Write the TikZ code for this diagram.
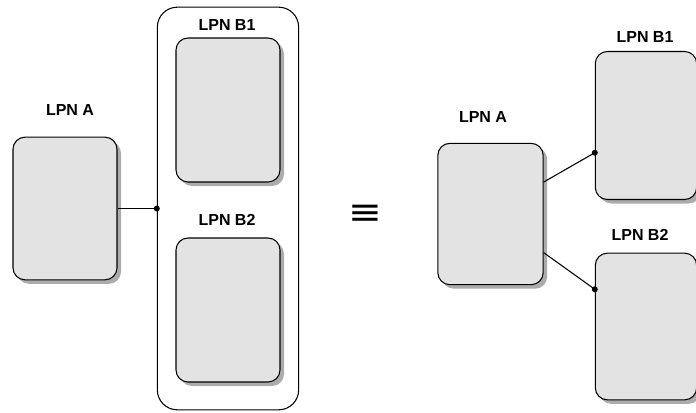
\documentclass[tikz,border=0pt]{standalone}
\usepackage{fontspec}
\setmainfont{Liberation Sans}
\newfontfamily\eqfont{DejaVu Sans}
\usetikzlibrary{shadows}
\begin{document}
\begin{tikzpicture}[x=0.75pt,y=-0.75pt,line width=0.8pt,
  lpn/.style={draw,rectangle,rounded corners=9pt,fill=gray!22,inner sep=0pt,
    drop shadow={shadow xshift=3pt,shadow yshift=-3pt,fill=gray!65,opacity=1}},
  lbl/.style={font=\fontsize{12}{14}\selectfont\bfseries},
  pin/.style={circle,fill=black,inner sep=0pt,minimum size=4.5pt}]
\useasboundingbox (0,0) rectangle (696,412);
% left: A joined to the group of B1 and B2
\node[lpn,minimum width=78pt,minimum height=107pt] (lA) at (65,208.5) {};
\node[lbl] (lAt) at (70,110) {LPN A};
\node[draw,rounded corners=15pt,minimum width=106pt,minimum height=302pt] (grp) at (228,208.5) {};
\node[lpn,minimum width=78pt,minimum height=108pt] (lB1) at (228,110) {};
\node[lbl] (lB1t) at (227,25) {LPN B1};
\node[lpn,minimum width=78pt,minimum height=108pt] (lB2) at (228,310) {};
\node[lbl] (lB2t) at (227,220) {LPN B2};
\draw (lA.east) -- (grp.west) node[pin] (lpin) {};
% equivalence
\node[font=\eqfont\fontsize{27}{27}\selectfont] (eq) at (365,215) {\scalebox{1.12}[1]{≡}};
% right: A joined to B1 and B2 one by one
\node[lpn,minimum width=79pt,minimum height=106pt] (rA) at (490.5,214) {};
\node[lbl] (rAt) at (483,117) {LPN A};
\node[lpn,minimum width=76pt,minimum height=111pt] (rB1) at (646,125.5) {};
\node[lbl] (rB1t) at (645,37) {LPN B1};
\node[lpn,minimum width=76pt,minimum height=110pt] (rB2) at (646,326.5) {};
\node[lbl] (rB2t) at (640,235) {LPN B2};
\draw (rA.31) -- (rB1.208) node[pin] (rpin1) {};
\draw (rA.-36) -- (rB2.144) node[pin] (rpin2) {};
\end{tikzpicture}
\end{document}
